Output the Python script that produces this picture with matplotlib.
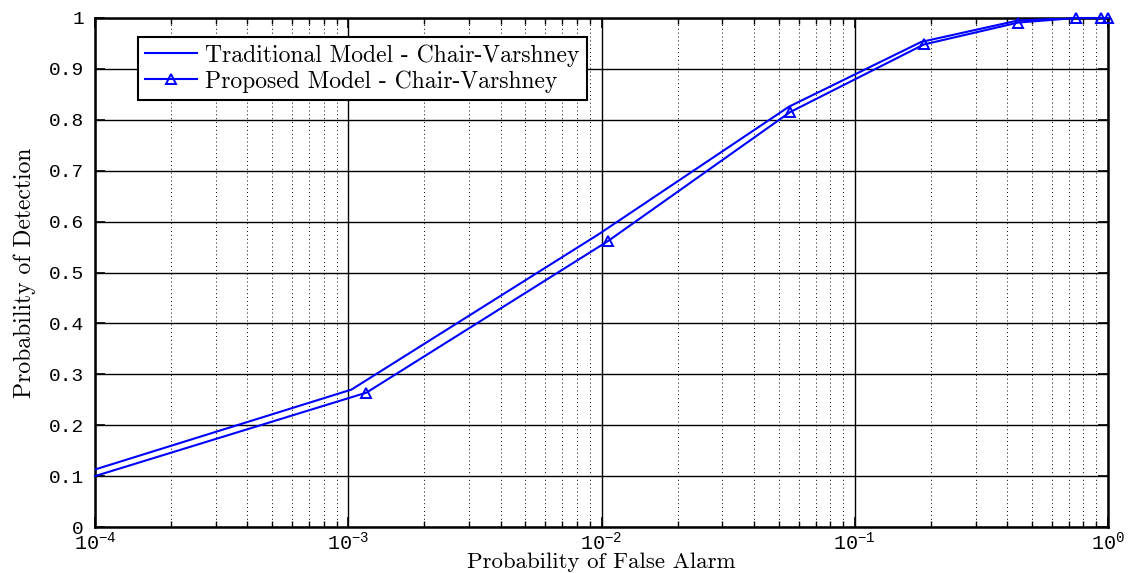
import matplotlib
matplotlib.use("Agg")
import matplotlib.pyplot as plt
from matplotlib.ticker import FixedLocator, LogLocator, NullFormatter

# ---- data ----
trad_pf = [1e-4, 1.03e-3, 9.8e-3, 0.0551, 0.183, 0.44, 0.74, 0.94, 1.0]
trad_pd = [0.113, 0.270, 0.576, 0.826, 0.953, 0.995, 1.0, 1.0, 1.0]
prop_pf = [1e-4, 1.18e-3, 1.063e-2, 0.0555, 0.1875, 0.4416, 0.745, 0.942, 1.0]
prop_pd = [0.100, 0.264, 0.562, 0.815, 0.948, 0.991, 1.0, 1.0, 1.0]

series_labels = ["Traditional Model - Chair-Varshney",
                 "Proposed Model - Chair-Varshney"]
xtick_vals = [1e-4, 1e-3, 1e-2, 1e-1, 1e0]
xtick_labels = [r"$10^{-4}$", r"$10^{-3}$", r"$10^{-2}$", r"$10^{-1}$", r"$10^{0}$"]
ytick_vals = [0, 0.1, 0.2, 0.3, 0.4, 0.5, 0.6, 0.7, 0.8, 0.9, 1]
ytick_labels = ["0", "0.1", "0.2", "0.3", "0.4", "0.5", "0.6", "0.7", "0.8", "0.9", "1"]
xlabel = "Probability of False Alarm"
ylabel = "Probability of Detection"

plt.rcParams["mathtext.fontset"] = "custom"
plt.rcParams["mathtext.rm"] = "Liberation Mono"
plt.rcParams["mathtext.it"] = "Liberation Mono"
plt.rcParams["mathtext.bf"] = "Liberation Mono"

fig = plt.figure(figsize=(11.3, 5.73), dpi=100)
ax = fig.add_axes([95 / 1130, 1 - 527 / 573, 1013 / 1130, 509 / 573])

blue = (0, 0, 1)
ax.plot(trad_pf, trad_pd, color=blue, lw=1.5, label=series_labels[0], zorder=3)
ax.plot(prop_pf, prop_pd, color=blue, lw=1.5, marker="^", markersize=7.5,
        markevery=list(range(1, len(prop_pf))),
        markerfacecolor="none", markeredgecolor=blue, markeredgewidth=1.4,
        label=series_labels[1], zorder=3, clip_on=False)

ax.set_xscale("log")
ax.set_xlim(1e-4, 1)
ax.set_ylim(0, 1)

ax.xaxis.set_major_locator(FixedLocator(xtick_vals))
ax.set_xticklabels(xtick_labels, fontsize=14.5)
ax.xaxis.set_minor_locator(LogLocator(base=10, subs=[2, 3, 4, 5, 6, 7, 8, 9]))
ax.xaxis.set_minor_formatter(NullFormatter())
ax.set_yticks(ytick_vals)
ax.set_yticklabels(ytick_labels, family="Liberation Mono", fontsize=14)

ax.tick_params(axis="both", which="major", direction="in", length=7, width=1.2,
               top=True, right=True)
ax.tick_params(axis="x", which="minor", direction="in", length=4, width=1.0,
               top=True, bottom=True)
ax.tick_params(axis="x", which="major", pad=3)
ax.tick_params(axis="y", which="major", pad=8)

ax.grid(True, which="major", axis="both", color="black", lw=1.0, ls="-", zorder=1)
ax.grid(True, which="minor", axis="x", color="black", lw=0.7, ls=(0, (1, 3)), zorder=1)
ax.set_axisbelow(True)

for s in ax.spines.values():
    s.set_linewidth(1.8)
    s.set_color("black")

ax.set_xlabel(xlabel, family="cmr10", fontsize=16.5, labelpad=-1)
ax.set_ylabel(ylabel, family="cmr10", fontsize=17, labelpad=9)

leg = ax.legend(loc="upper left", bbox_to_anchor=(0.0424, 0.9627), borderaxespad=0,
                prop={"family": "cmr10", "size": 17}, fancybox=False,
                edgecolor="black", framealpha=1, handlelength=2.2,
                handletextpad=0.35, borderpad=0.3, labelspacing=0.15)
leg.get_frame().set_linewidth(1.5)

fig.savefig("out.png", dpi=100)
